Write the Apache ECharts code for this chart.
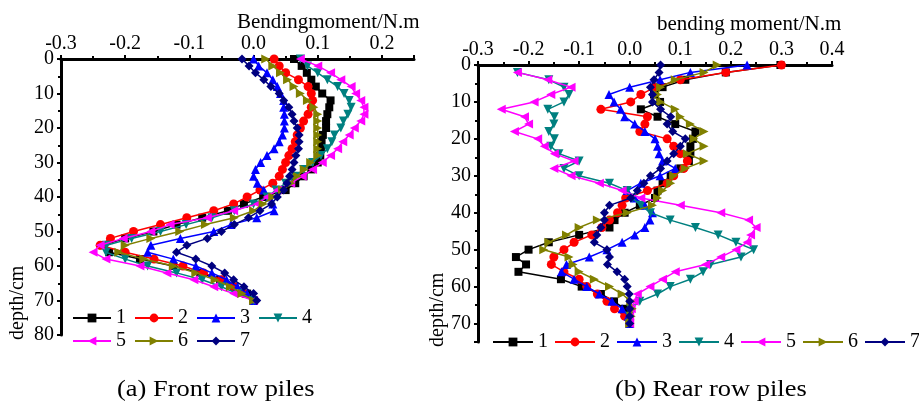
<!DOCTYPE html>
<html>
<head>
<meta charset="utf-8">
<script src="https://cdn.jsdelivr.net/npm/echarts@6/dist/echarts.min.js"></script>
<style>
  html, body { margin: 0; padding: 0; background: #fff; }
  #chart { width: 919px; height: 403px; }
</style>
</head>
<body>
<div id="chart"></div>
<script>
// depth grid (cm), shared by every curve
const depths = [0,2,4,6,8,10,12,14,16,18,20,22,24,26,28,30,32,34,36,38,40,42,44,46,48,50,52,54,56,58,60,62,64,66,68,70];
const seriesNames = ['1', '2', '3', '4', '5', '6', '7'];

// (a) front row piles, bending moment N.m
const front1 = [0.063,0.075,0.083,0.09,0.097,0.107,0.12,0.118,0.115,0.113,0.113,0.108,0.106,0.105,0.104,0.1,0.09,0.078,0.065,0.05,0.015,-0.015,-0.04,-0.08,-0.12,-0.156,-0.2,-0.235,-0.225,-0.177,-0.125,-0.083,-0.052,-0.03,-0.01,0];
const front2 = [0.032,0.04,0.05,0.07,0.085,0.09,0.092,0.09,0.085,0.078,0.073,0.068,0.065,0.06,0.055,0.05,0.045,0.04,0.03,0.01,-0.01,-0.031,-0.062,-0.104,-0.145,-0.187,-0.223,-0.239,-0.2,-0.155,-0.11,-0.078,-0.05,-0.03,-0.015,0];
const front3 = [0,0.008,0.021,0.03,0.037,0.042,0.047,0.047,0.048,0.048,0.048,0.045,0.04,0.032,0.021,0.011,0.003,0,0.006,0.016,0.025,0.03,0.032,0.005,-0.035,-0.062,-0.114,-0.16,-0.165,-0.125,-0.09,-0.065,-0.042,-0.025,-0.01,0];
const front4 = [0.073,0.084,0.1,0.115,0.131,0.141,0.149,0.152,0.147,0.14,0.136,0.126,0.122,0.115,0.105,0.092,0.078,0.065,0.05,0.035,0.021,0,-0.03,-0.065,-0.105,-0.145,-0.19,-0.229,-0.23,-0.2,-0.165,-0.12,-0.08,-0.05,-0.025,0];
const front5 = [0.073,0.1,0.12,0.136,0.152,0.159,0.167,0.172,0.172,0.167,0.157,0.149,0.139,0.131,0.12,0.107,0.092,0.076,0.058,0.037,0.021,0.006,-0.031,-0.072,-0.13,-0.16,-0.203,-0.239,-0.25,-0.23,-0.177,-0.135,-0.093,-0.062,-0.031,0];
const front6 = [0.019,0.03,0.042,0.053,0.063,0.073,0.084,0.094,0.1,0.1,0.1,0.1,0.1,0.1,0.1,0.089,0.079,0.068,0.058,0.045,0.03,0.015,0,-0.03,-0.075,-0.115,-0.16,-0.2,-0.21,-0.171,-0.125,-0.09,-0.06,-0.036,-0.018,0];
const front7 = [-0.018,-0.007,0.003,0.016,0.027,0.04,0.047,0.055,0.06,0.063,0.068,0.071,0.071,0.07,0.066,0.063,0.06,0.056,0.052,0.047,0.037,0.028,0.01,-0.008,-0.03,-0.05,-0.072,-0.104,-0.12,-0.09,-0.065,-0.045,-0.031,-0.015,0,0.005];

// (b) rear row piles, bending moment N.m (null = no reading)
const rear1 = [0.298,0.19,0.11,0.065,0.048,0.06,0.022,0.055,0.09,0.13,0.125,0.12,0.12,0.117,0.1,0.081,0.065,0.055,0.05,0.02,-0.01,-0.03,-0.04,-0.1,-0.16,-0.2,-0.225,-0.205,-0.22,-0.136,-0.095,-0.057,-0.031,-0.01,0,0];
const rear2 = [0.3,0.19,0.1,0.05,0.022,0.002,-0.057,0.035,0.03,0.02,0.074,0.087,0.1,0.114,0.107,0.087,0.074,0.035,-0.008,-0.015,-0.024,-0.04,-0.055,-0.075,-0.11,-0.13,-0.15,-0.155,-0.13,-0.1,-0.085,-0.064,-0.045,-0.03,-0.01,0];
const rear3 = [0.232,0.12,0.06,0,-0.041,-0.031,-0.018,-0.01,0.01,0.03,0.05,0.055,0.058,0.065,0.09,0.06,0.022,-0.005,0.01,0.03,0.045,0.04,0.03,0.01,-0.015,-0.045,-0.08,-0.125,-0.135,-0.11,-0.085,-0.06,-0.035,-0.015,-0.003,0];
const rear4 = [null,-0.222,-0.16,-0.13,-0.12,-0.13,-0.162,-0.149,-0.15,-0.16,-0.149,-0.156,-0.14,-0.1,-0.13,-0.1,-0.04,-0.005,0.005,0.022,0.041,0.08,0.13,0.175,0.21,0.245,0.22,0.16,0.145,0.12,0.08,0.055,0.02,0.002,0,0];
const rear5 = [null,-0.222,-0.162,-0.116,-0.156,-0.189,-0.254,-0.208,-0.2,-0.228,-0.182,-0.169,-0.149,-0.11,-0.15,-0.116,-0.06,-0.015,0.022,0.1,0.18,0.235,0.25,0.239,0.232,0.21,0.18,0.15,0.09,0.065,0.04,0.015,0.009,0.003,0,0];
const rear6 = [0.173,0.147,0.09,0.061,0.055,0.061,0.09,0.1,0.12,0.147,0.127,0.147,0.114,0.147,0.11,0.087,0.081,0.065,0.055,0.045,-0.005,-0.064,-0.1,-0.125,-0.16,-0.17,-0.12,-0.112,-0.1,-0.07,-0.04,-0.015,0.002,0.005,0.003,0];
const rear7 = [0.061,0.058,0.048,0.041,0.045,0.045,0.061,0.081,0.074,0.085,0.11,0.1,0.087,0.074,0.061,0.041,0.028,0.015,0.002,-0.04,-0.05,-0.05,-0.057,-0.065,-0.07,-0.045,-0.04,-0.044,-0.025,-0.01,-0.005,-0.001,0,0,0,0];

const frontData = [front1, front2, front3, front4, front5, front6, front7];
const rearData = [rear1, rear2, rear3, rear4, rear5, rear6, rear7];

const colors = ['#000000', '#ff0000', '#0000ff', '#008080', '#ff00ff', '#808000', '#000080'];
const symbols = ['rect', 'circle', 'triangle', 'triangle', 'triangle', 'triangle', 'diamond'];
const rotates = [0, 0, 0, 180, 90, -90, 0];
const sizes = [8, 9, 9, 9, 9, 9, 9];

const font = '"Liberation Serif", "Times New Roman", "DejaVu Serif", serif';
const fontSize = 20;

function xAxisCfg(gridIndex, max) {
    return {
        gridIndex: gridIndex,
        type: 'value',
        position: 'top',
        min: -0.3,
        max: max,
        interval: 0.1,
        axisLine: { onZero: false, lineStyle: { color: '#000', width: 3 } },
        axisTick: { show: true, inside: false, length: 4, lineStyle: { width: 2, color: '#000' } },
        minorTick: { show: true, splitNumber: 2, length: 3, lineStyle: { width: 2, color: '#000' } },
        splitLine: { show: false },
        axisLabel: {
            color: '#000', fontFamily: font, fontSize: fontSize, margin: 5,
            showMaxLabel: max === 0.4,
            formatter: v => v.toFixed(1)
        }
    };
}

function yAxisCfg(gridIndex, max) {
    return {
        gridIndex: gridIndex,
        type: 'value',
        inverse: true,
        min: 0,
        max: max,
        interval: 10,
        axisLine: { onZero: false, lineStyle: { color: '#000', width: 3 } },
        axisTick: { show: true, inside: false, length: 4, lineStyle: { width: 2, color: '#000' } },
        minorTick: { show: true, splitNumber: 2, length: 3, lineStyle: { width: 2, color: '#000' } },
        splitLine: { show: false },
        axisLabel: {
            color: '#000', fontFamily: font, fontSize: fontSize, margin: 7,
            showMaxLabel: max === 80
        }
    };
}

const series = [];
[frontData, rearData].forEach((panel, p) => {
    panel.forEach((vals, i) => {
        const pts = [];
        vals.forEach((m, j) => {
            if (m !== null) pts.push([m, depths[j]]);
        });
        series.push({
            name: seriesNames[i],
            type: 'line',
            xAxisIndex: p,
            yAxisIndex: p,
            data: pts,
            symbol: symbols[i],
            symbolSize: sizes[i],
            symbolRotate: rotates[i],
            showAllSymbol: true,
            color: colors[i],
            itemStyle: { color: colors[i] },
            lineStyle: { color: colors[i], width: 1.5 },
            z: 2 + i
        });
    });
});

const legendText = { color: '#000', fontFamily: font, fontSize: fontSize };

const option = {
    animation: false,
    backgroundColor: '#fff',
    grid: [
        { left: 61, top: 59, width: 353, height: 276 },
        { left: 478, top: 65, width: 354, height: 277 }
    ],
    xAxis: [xAxisCfg(0, 0.25), xAxisCfg(1, 0.4)],
    yAxis: [yAxisCfg(0, 80), yAxisCfg(1, 75)],
    legend: [
        {
            data: seriesNames.slice(0, 4), left: 72, top: 308,
            itemWidth: 38, itemHeight: 11, itemGap: 8, padding: 0,
            textStyle: legendText
        },
        {
            data: seriesNames.slice(4), left: 72, top: 331,
            itemWidth: 38, itemHeight: 11, itemGap: 8, padding: 0,
            textStyle: legendText
        },
        {
            data: seriesNames, left: 492, top: 332, width: 440,
            itemWidth: 40, itemHeight: 11, itemGap: 6, padding: 0,
            textStyle: legendText
        }
    ],
    graphic: [
        { type: 'text', left: 237, top: 12, style: { text: 'Bendingmoment/N.m', font: '21px ' + font, fill: '#000' } },
        { type: 'text', left: 657, top: 14, style: { text: 'bending moment/N.m', font: '21px ' + font, fill: '#000' } },
        { type: 'text', x: 8, y: 340, rotation: Math.PI / 2, style: { text: 'depth/cm', font: '20px ' + font, fill: '#000' } },
        { type: 'text', x: 428, y: 347, rotation: Math.PI / 2, style: { text: 'depth/cm', font: '20px ' + font, fill: '#000' } },
        { type: 'text', x: 117, y: 378, scaleX: 1.15, style: { text: '(a) Front row piles', font: '23px ' + font, fill: '#000' } },
        { type: 'text', x: 615, y: 378, scaleX: 1.15, style: { text: '(b) Rear row piles', font: '23px ' + font, fill: '#000' } }
    ],
    series: series
};

const chart = echarts.init(document.getElementById('chart'));
chart.setOption(option);
</script>
</body>
</html>
